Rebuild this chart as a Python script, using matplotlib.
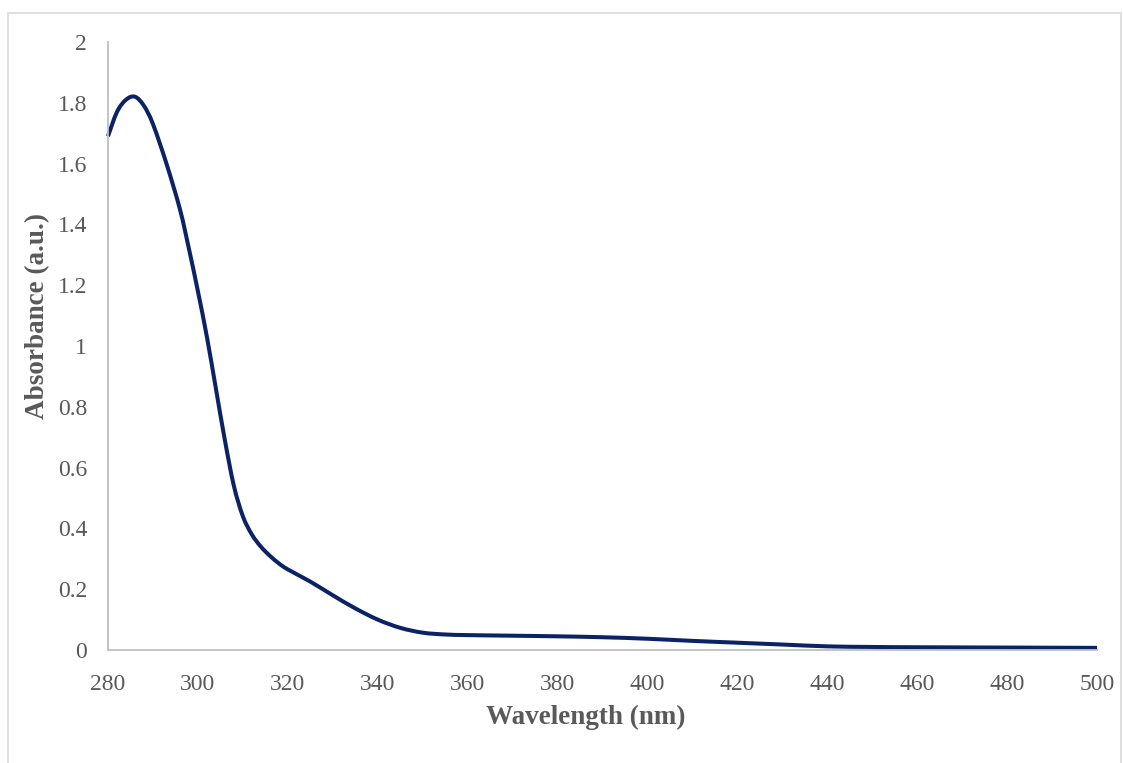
import numpy as np
import matplotlib.pyplot as plt
from matplotlib.patches import Rectangle, PathPatch
from matplotlib.path import Path

# absorbance spectrum
wavelength = [280, 282, 284, 286, 288, 290, 293, 296, 298, 300, 302, 304, 306,
              308, 310, 312, 314, 316, 318, 320, 325, 330, 335, 340, 345, 350,
              355, 360, 370, 380, 390, 400, 410, 420, 430, 440, 450, 460, 480, 500]
absorbance = [1.69, 1.77, 1.81, 1.82, 1.79, 1.73, 1.60, 1.45, 1.32, 1.18, 1.03,
              0.86, 0.69, 0.54, 0.44, 0.38, 0.34, 0.31, 0.285, 0.265, 0.225,
              0.18, 0.137, 0.10, 0.073, 0.057, 0.051, 0.049, 0.047, 0.045,
              0.042, 0.037, 0.030, 0.024, 0.018, 0.012, 0.010, 0.009, 0.008, 0.007]

x_ticks = list(range(280, 501, 20))
y_ticks = [0, 0.2, 0.4, 0.6, 0.8, 1, 1.2, 1.4, 1.6, 1.8, 2]
y_tick_labels = ["0", "0.2", "0.4", "0.6", "0.8", "1", "1.2", "1.4", "1.6", "1.8", "2"]


def smoothed_path(xs, ys):
    # Excel style "smoothed line": cubic bezier through every point
    p = np.column_stack([xs, ys]).astype(float)
    ext = np.vstack([p[0], p, p[-1]])
    verts = [p[0]]
    codes = [Path.MOVETO]
    for i in range(len(p) - 1):
        a, b, c, d = ext[i], ext[i + 1], ext[i + 2], ext[i + 3]
        verts += [b + (c - a) / 6, c - (d - b) / 6, c]
        codes += [Path.CURVE4] * 3
    return Path(verts, codes)


W, H = 1123, 763
plt.rcParams["font.family"] = ["Liberation Serif", "DejaVu Serif"]
fig = plt.figure(figsize=(W / 100, H / 100), dpi=100)
ax = fig.add_axes([108 / W, 1 - 650 / H, (1097 - 108) / W, (650 - 42) / H])

# chart area border
fig.patches.append(Rectangle((8 / W, -0.05), (1121 - 8) / W, 1.05 - 13 / H,
                             transform=fig.transFigure, fill=False,
                             edgecolor="#d9d9d9", linewidth=1.2))

ax.add_patch(PathPatch(smoothed_path(wavelength, absorbance), fill=False,
                       edgecolor="#0b2265", linewidth=2.9, capstyle="butt",
                       clip_on=False))

ax.set_xlim(280, 500)
ax.set_ylim(0, 2)
ax.set_xticks(x_ticks)
ax.set_yticks(y_ticks)
ax.set_yticklabels(y_tick_labels)
ax.tick_params(length=0, labelsize=17, labelcolor="#595959")
ax.tick_params(axis="x", pad=17)
ax.tick_params(axis="y", pad=15)
for side in ["top", "right"]:
    ax.spines[side].set_visible(False)
for side in ["left", "bottom"]:
    ax.spines[side].set_color("#bfbfbf")
    ax.spines[side].set_linewidth(1.3)

fig.text(586 / W, 1 - 717 / H, "Wavelength (nm)", ha="center", va="center",
         fontsize=19.5, fontweight="bold", color="#595959")
fig.text(38 / W, 1 - 316 / H, "Absorbance (a.u.)", ha="center", va="center",
         rotation=90, fontsize=19.5, fontweight="bold", color="#595959")

fig.savefig("out.png", dpi=100)
